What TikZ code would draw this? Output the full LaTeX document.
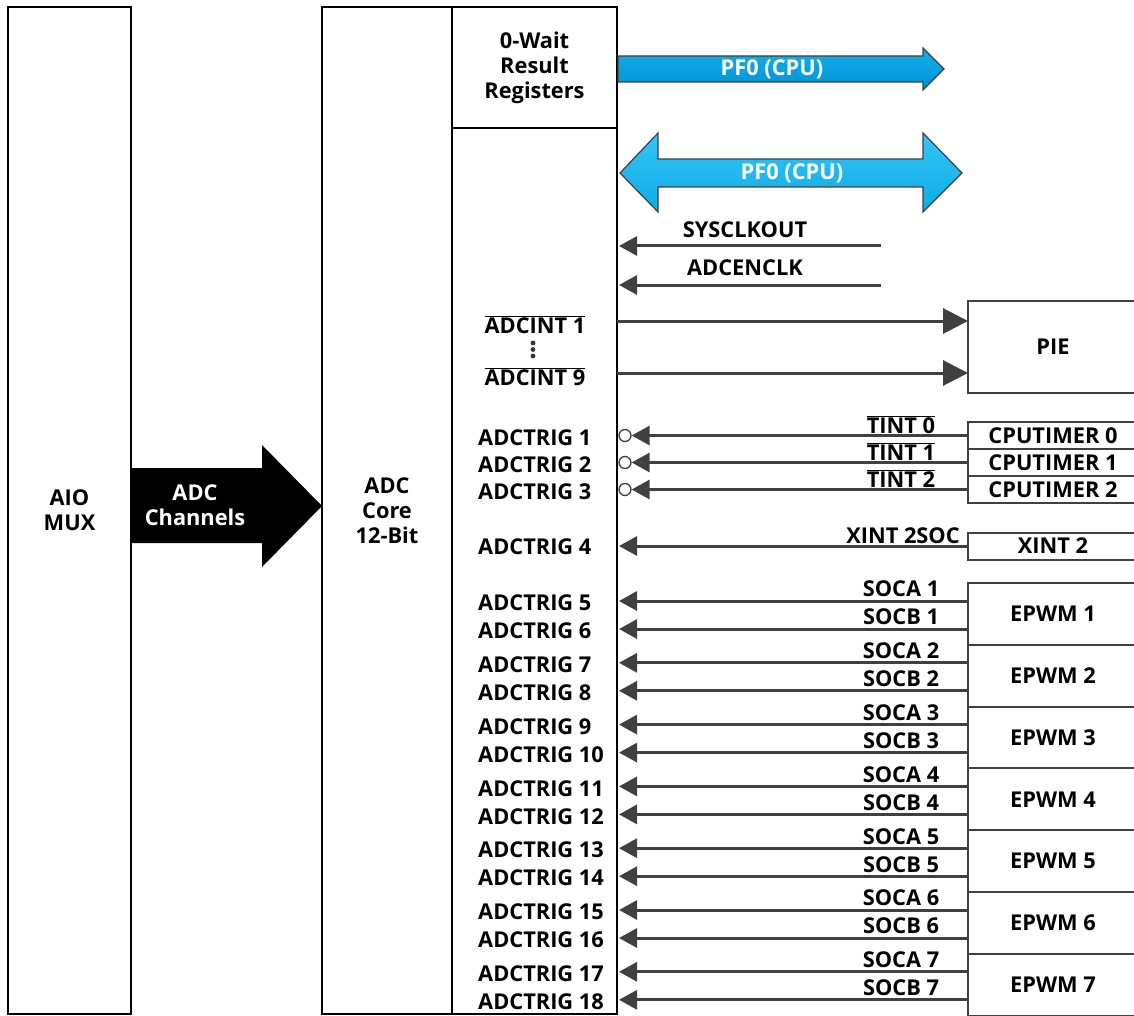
\documentclass[tikz,border=0pt]{standalone}
\usepackage{fontspec}
\setmainfont{Open Sans}
\usetikzlibrary{arrows.meta,positioning,calc}
\definecolor{lineC}{RGB}{64,64,64}
\definecolor{pfA}{RGB}{20,176,236}
\definecolor{pfB}{RGB}{0,146,212}
\definecolor{pfC}{RGB}{52,198,246}
\definecolor{pfD}{RGB}{14,170,230}
\newcommand{\ovl}[1]{$\overline{\mbox{#1}}$}
\tikzset{
  blk/.style={rectangle, draw=black, line width=1.8pt, fill=white, inner sep=0pt, outer sep=0pt,
              align=center, font=\bfseries\fontsize{21.8}{25}\selectfont},
  pbox/.style={rectangle, draw=lineC, line width=2pt, fill=white, inner sep=0pt, outer sep=0pt,
               minimum width=170, font=\bfseries\fontsize{21.8}{25}\selectfont},
  lbl/.style={inner sep=0pt, align=center, font=\bfseries\fontsize{21.8}{25}\selectfont},
  sig/.style={-{Triangle[length=18pt,width=19pt]}, line width=3pt, draw=lineC, shorten >=2pt},
  sigbig/.style={-{Triangle[length=25pt,width=25pt]}, line width=3pt, draw=lineC},
  inv/.style={circle, draw=lineC, line width=1.3pt, fill=white, minimum size=12pt, inner sep=0pt},
}
\begin{document}
\begin{tikzpicture}[x=1pt,y=-1pt]
  \useasboundingbox (0,0) rectangle (1134,1016);
  % main blocks
  \node[blk, minimum width=123, minimum height=1007] (mux) at (69.5,510.5) {AIO\\MUX};
  \node[blk, minimum width=130, minimum height=1007] (core) at (387,510.5) {ADC\\Core\\12-Bit};
  \node[blk, minimum width=165, minimum height=1007] (col) at (534.5,510.5) {};
  \node[blk, minimum width=165, minimum height=121] (reg) at (534.5,67.5) {0-Wait\\Result\\Registers};

  % channel arrow
  \fill[black] (131,468) -- (262,468) -- (262,445) -- (322,506) -- (262,567) -- (262,543) -- (131,543) -- cycle;
  \node[lbl, text=white] (chan) at (195,505) {ADC\\Channels};

  % PF0 buses
  \shade[top color=pfA, bottom color=pfB, draw=lineC, line width=1.2pt]
    (618,56) -- (923,56) -- (923,48) -- (944,69) -- (923,90) -- (923,82) -- (618,82) -- cycle;
  \node[lbl, text=white, text depth=0pt] (pf1) at (772,68) {PF0 (CPU)};
  \shade[top color=pfC, bottom color=pfD, draw=lineC, line width=1.2pt]
    (620,173) -- (658,133) -- (658,159) -- (923,159) -- (923,133) -- (962,173)
    -- (923,212) -- (923,187) -- (658,187) -- (658,212) -- cycle;
  \node[lbl, text=white, text depth=0pt] (pf2) at (792,172) {PF0 (CPU)};

  % clocks
  \coordinate (sysclk) at (881,246);
  \coordinate (adcclk) at (881,285);
  \node[lbl] (sysclkL) at (745,230) {SYSCLKOUT};
  \node[lbl] (adcclkL) at (745,268) {ADCENCLK};
  \draw[sig] (sysclk) -- (sysclk -| col.east);
  \draw[sig] (adcclk) -- (adcclk -| col.east);

  % interrupts to PIE
  \node[pbox, minimum height=92] (pie) at (1053,347) {PIE};
  \node[lbl] (int1) at (535,325) {\ovl{ADCINT 1}};
  \node[lbl] (int9) at (535,377) {\ovl{ADCINT 9}};
  \foreach \d in {343,349.5,356} \fill[black!80] (533,\d) circle (2.4pt);
  \draw[sigbig] (col.east |- 0,321) -- (pie.west |- 0,321);
  \draw[sigbig] (col.east |- 0,373) -- (pie.west |- 0,373);

  % cpu timers
  \foreach \i/\y in {0/435.5,1/462.5,2/489.5}{
    \pgfmathtruncatemacro\n{\i+1}
    \node[pbox, minimum height=27] (tmr\i) at (1053,\y) {CPUTIMER \i};
    \node[inv] (inv\i) at (625,\y) {};
    \draw[sig, shorten >=0pt] (tmr\i.west) -- (inv\i.east);
    \node[lbl] (tint\i) at (901,\y-11) {\ovl{TINT \i}};
    \node[lbl, anchor=west] (trig\n) at (478,\y+2) {ADCTRIG \n};
  }

  % external interrupt
  \node[pbox, minimum height=27] (xint) at (1053,546) {XINT 2};
  \node[lbl] (xintL) at (903,536) {XINT 2SOC};
  \draw[sig] (xint.west) -- (xint.west -| col.east);
  \node[lbl, anchor=west] (trig4) at (478,547) {ADCTRIG 4};

  % ePWM modules
  \foreach \k in {1,...,7}{
    \pgfmathsetmacro\t{583+(\k-1)*61.8}
    \pgfmathsetmacro\ya{\t+18}
    \pgfmathsetmacro\yb{\t+46}
    \pgfmathtruncatemacro\na{2*\k+3}
    \pgfmathtruncatemacro\nb{2*\k+4}
    \node[pbox, minimum height=61.8, anchor=north west] (epwm\k) at (968,\t) {EPWM \k};
    \coordinate (sa\k) at (968,\ya);
    \coordinate (sb\k) at (968,\yb);
    \draw[sig] (sa\k) -- (sa\k -| col.east);
    \draw[sig] (sb\k) -- (sb\k -| col.east);
    \node[lbl] (socaL\k) at (901,\ya-12) {SOCA \k};
    \node[lbl] (socbL\k) at (901,\yb-12) {SOCB \k};
    \node[lbl, anchor=west] (trig\na) at (478,\ya+2) {ADCTRIG \na};
    \node[lbl, anchor=west] (trig\nb) at (478,\yb+2) {ADCTRIG \nb};
  }
\end{tikzpicture}
\end{document}
